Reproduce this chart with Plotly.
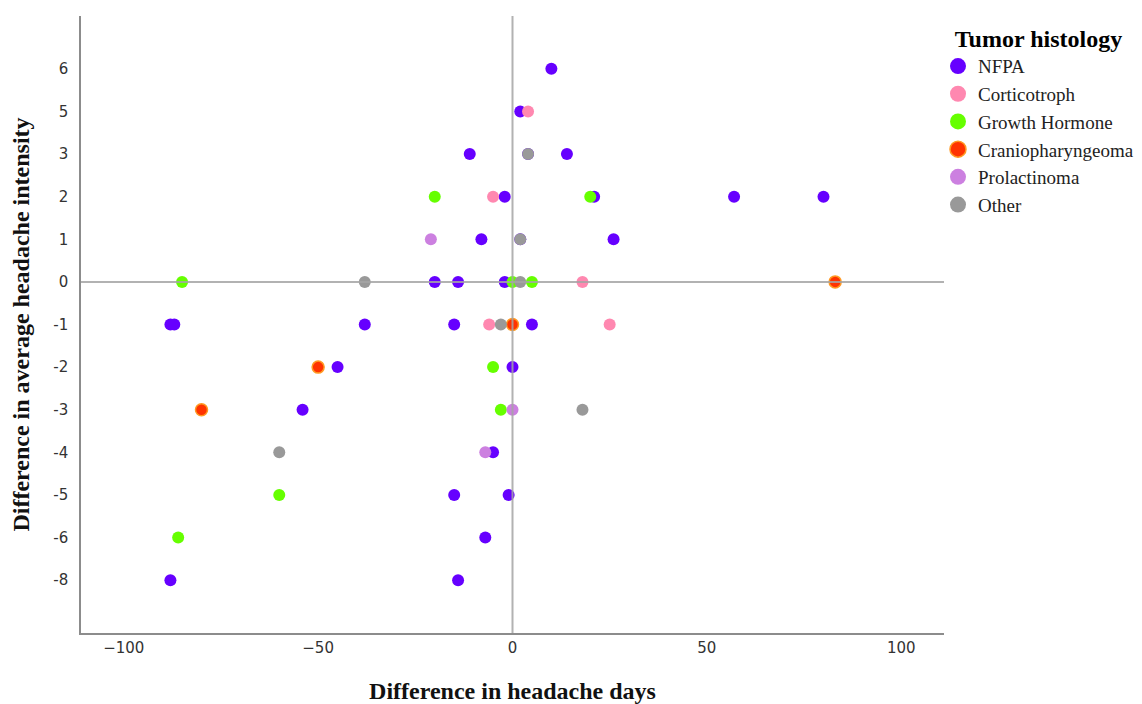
import plotly.graph_objects as go

# y-axis categories (ordinal, as shown on the chart)
y_categories = ["-8", "-6", "-5", "-4", "-3", "-2", "-1", "0", "1", "2", "3", "5", "6"]
x_ticks = [-100, -50, 0, 50, 100]

groups = ["NFPA", "Corticotroph", "Growth Hormone", "Craniopharyngeoma", "Prolactinoma", "Other"]

nfpa_x = [10, 2, -11, 4, 14, -2, 21, 57, 80, -8, 2, 26, -20, -14, -2, -88, -87, -38, -15, 5, -45, 0, -54, -5, -15, -1, -7, -88, -14]
nfpa_y = [6, 5, 3, 3, 3, 2, 2, 2, 2, 1, 1, 1, 0, 0, 0, -1, -1, -1, -1, -1, -2, -2, -3, -4, -5, -5, -6, -8, -8]

cort_x = [4, -5, 18, -6, 25]
cort_y = [5, 2, 0, -1, -1]

gh_x = [-20, 20, -85, 0, 5, -5, -3, -60, -86]
gh_y = [2, 2, 0, 0, 0, -2, -3, -5, -6]

cranio_x = [83, 0, -50, -80]
cranio_y = [0, -1, -2, -3]

prl_x = [-21, 0, -7]
prl_y = [1, -3, -4]

other_x = [4, 2, -38, 2, -3, 18, -60]
other_y = [3, 1, 0, 0, -1, -3, -4]

series_x = [nfpa_x, cort_x, gh_x, cranio_x, prl_x, other_x]
series_y = [nfpa_y, cort_y, gh_y, cranio_y, prl_y, other_y]

colors = ["#6600FF", "#FF88B0", "#66FF00", "#FF3300", "#CC80E0", "#999999"]
outlines = ["#6600FF", "#FF88B0", "#66FF00", "#FF9922", "#CC80E0", "#999999"]

fig = go.Figure()
for name, xs, ys, c, oc in zip(groups, series_x, series_y, colors, outlines):
    fig.add_trace(go.Scatter(
        x=xs, y=[str(v) for v in ys], mode="markers", name=name,
        showlegend=False,
        marker=dict(size=12, color=c, line=dict(width=1.5 if name == "Craniopharyngeoma" else 0, color=oc)),
    ))
# legend entries (larger symbols)
for name, c, oc in zip(groups, colors, outlines):
    fig.add_trace(go.Scatter(
        x=[None], y=[None], mode="markers", name=name, showlegend=True,
        marker=dict(size=16, color=c, line=dict(width=1.5 if name == "Craniopharyngeoma" else 0, color=oc)),
    ))

zero_idx = y_categories.index("0")
fig.add_shape(type="line", xref="paper", x0=0, x1=1, yref="y", y0=zero_idx, y1=zero_idx,
              line=dict(color="rgba(165,165,165,0.85)", width=2), layer="above")
fig.add_shape(type="line", xref="x", x0=0, x1=0, yref="paper", y0=0, y1=1,
              line=dict(color="rgba(165,165,165,0.85)", width=2), layer="above")

serif = "Liberation Serif"
sans = "DejaVu Sans"

fig.update_layout(
    width=1142, height=704,
    margin=dict(l=81, r=198, t=16, b=71, autoexpand=False),
    paper_bgcolor="white", plot_bgcolor="white",
    showlegend=True,
    legend=dict(
        title=dict(text="<b>Tumor histology</b>", font=dict(family=serif, size=24, color="#000"), side="top center"),
        font=dict(family=serif, size=19, color="#222"),
        xref="container", yref="container",
        x=938 / 1142, xanchor="left", y=1 - 16 / 704, yanchor="top",
        bgcolor="rgba(0,0,0,0)", borderwidth=0,
        tracegroupgap=0,
    ),
    xaxis=dict(
        range=[-111, 111], tickvals=x_ticks, showgrid=False, zeroline=False,
        showline=True, linecolor="#8c8c8c", linewidth=1.5, ticks="",
        tickfont=dict(family=sans, size=15, color="#333"),
        title=dict(text="<b>Difference in headache days</b>", font=dict(family=serif, size=24, color="#111"), standoff=26),
    ),
    yaxis=dict(
        type="category", categoryorder="array", categoryarray=y_categories,
        range=[-1.24, len(y_categories) - 1 + 1.24],
        showgrid=False, zeroline=False,
        showline=True, linecolor="#8c8c8c", linewidth=1.5, ticks="",
        tickfont=dict(family=sans, size=15, color="#333"),
        ticklabelstandoff=8,
        title=dict(text="<b>Difference in average headache intensity</b>", font=dict(family=serif, size=24, color="#111"), standoff=17),
    ),
)

fig.write_html("out.html")
